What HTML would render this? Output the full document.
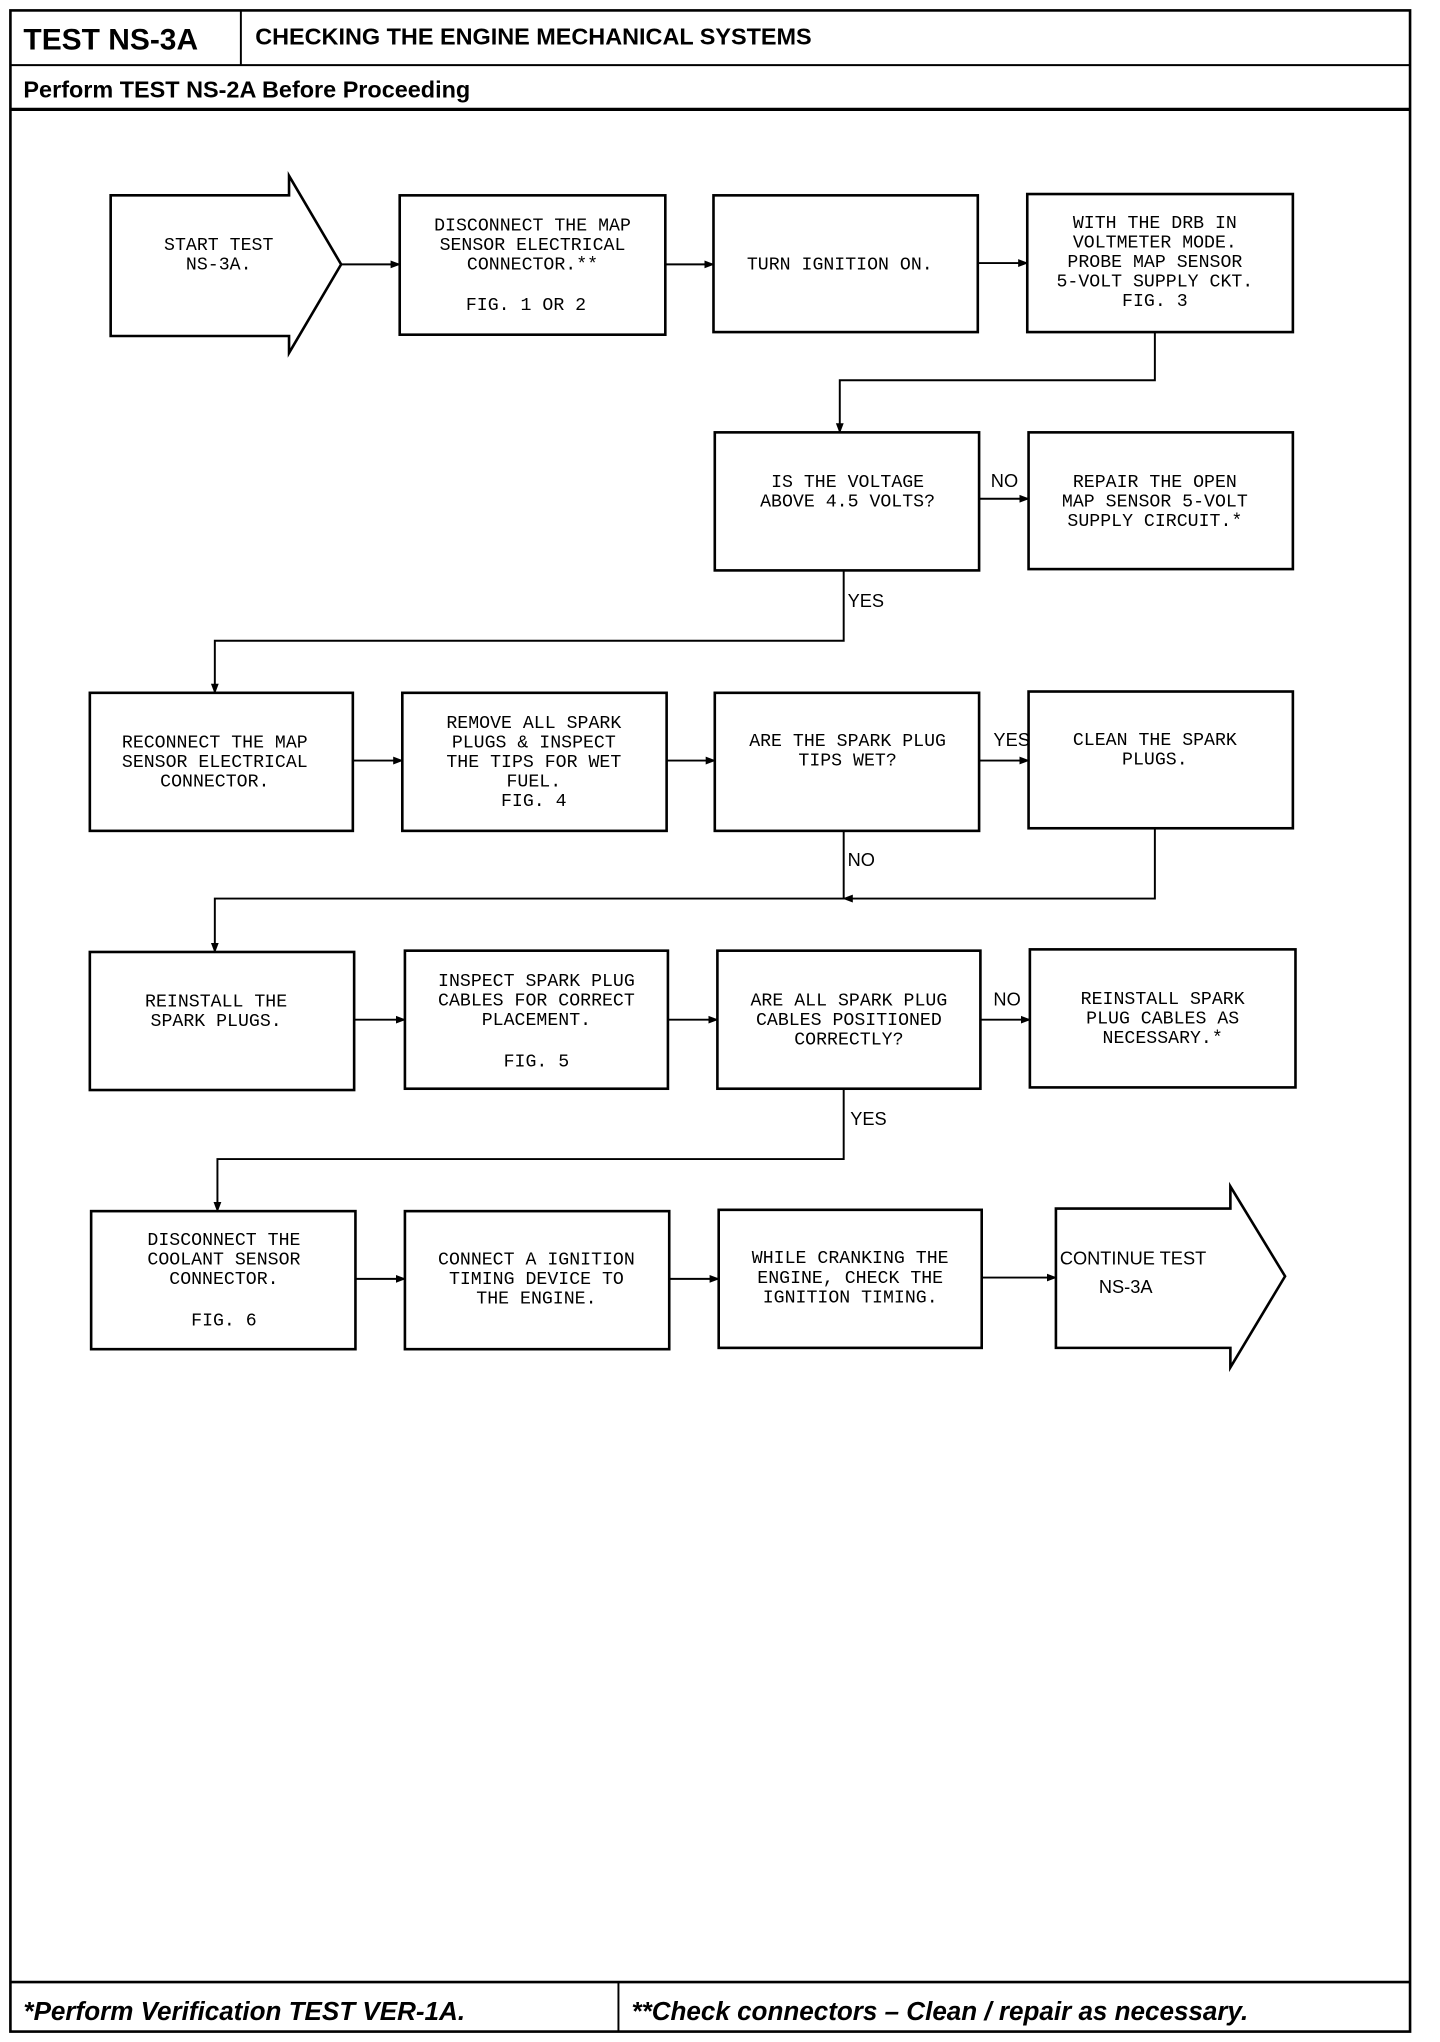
<!DOCTYPE html>
<html><head><meta charset="utf-8"><style>
html,body{margin:0;padding:0;background:#fff;}
svg{display:block}
.m{font-family:"Liberation Mono",monospace;font-size:14px;fill:#000;text-anchor:middle}
.h{font-family:"Liberation Sans",sans-serif;font-weight:bold;fill:#000}
.l{font-family:"Liberation Sans",sans-serif;font-size:14px;fill:#000}
</style></head><body>
<svg width="1440" height="2042" viewBox="0 0 1106 1568" preserveAspectRatio="none" xmlns="http://www.w3.org/2000/svg">
<defs><marker id="a" markerWidth="8" markerHeight="8" refX="7" refY="4" orient="auto" markerUnits="userSpaceOnUse"><path d="M0,1 L8,4 L0,7 Z" fill="#000"/></marker></defs>
<g fill="none" stroke="#000">
<rect x="8" y="8" width="1075" height="1552" stroke-width="2"/>
<line x1="8" y1="50" x2="1083" y2="50" stroke-width="1.5"/>
<line x1="185" y1="8" x2="185" y2="50" stroke-width="1.5"/>
<line x1="8" y1="84" x2="1083" y2="84" stroke-width="2.5"/>
<line x1="8" y1="1522" x2="1083" y2="1522" stroke-width="2"/>
<line x1="475" y1="1522" x2="475" y2="1560" stroke-width="1.5"/>
<g stroke-width="2">
<path d="M85,150 H222 V135 L262,203 L222,271 V258 H85 Z"/>
<rect x="307" y="150" width="204" height="107"/>
<rect x="548" y="150" width="203" height="105"/>
<rect x="789" y="149" width="204" height="106"/>
<rect x="549" y="332" width="203" height="106"/>
<rect x="790" y="332" width="203" height="105"/>
<rect x="69" y="532" width="202" height="106"/>
<rect x="309" y="532" width="203" height="106"/>
<rect x="549" y="532" width="203" height="106"/>
<rect x="790" y="531" width="203" height="105"/>
<rect x="69" y="731" width="203" height="106"/>
<rect x="311" y="730" width="202" height="106"/>
<rect x="551" y="730" width="202" height="106"/>
<rect x="791" y="729" width="204" height="106"/>
<rect x="70" y="930" width="203" height="106"/>
<rect x="311" y="930" width="203" height="106"/>
<rect x="552" y="929" width="202" height="106"/>
<path d="M811,928 H945 V911 L987,980 L945,1050 V1035 H811 Z"/>
</g>
<g stroke-width="1.5" marker-end="url(#a)">
<line x1="262" y1="203" x2="307" y2="203"/>
<line x1="511" y1="203" x2="548" y2="203"/>
<line x1="751" y1="202" x2="789" y2="202"/>
<path d="M887,255 V292 H645 V332"/>
<line x1="752" y1="383" x2="790" y2="383"/>
<path d="M648,438 V492 H165 V532"/>
<line x1="271" y1="584" x2="309" y2="584"/>
<line x1="512" y1="584" x2="549" y2="584"/>
<line x1="752" y1="584" x2="790" y2="584"/>
<path d="M648,638 V690 H165 V731"/>
<path d="M887,636 V690 H648"/>
<line x1="272" y1="783" x2="311" y2="783"/>
<line x1="513" y1="783" x2="551" y2="783"/>
<line x1="753" y1="783" x2="791" y2="783"/>
<path d="M648,836 V890 H167 V930"/>
<line x1="273" y1="982" x2="311" y2="982"/>
<line x1="514" y1="982" x2="552" y2="982"/>
<line x1="754" y1="981" x2="811" y2="981"/>
</g>
</g>
<text class="h" x="18" y="38" font-size="23">TEST NS-3A</text>
<text class="h" x="196" y="34" font-size="18">CHECKING THE ENGINE MECHANICAL SYSTEMS</text>
<text class="h" x="18" y="75" font-size="18">Perform TEST NS-2A Before Proceeding</text>
<text class="h" x="18" y="1551" font-size="20" font-style="italic">*Perform Verification TEST VER-1A.</text>
<text class="h" x="485" y="1551" font-size="20" font-style="italic">**Check connectors – Clean / repair as necessary.</text>
<g class="m">
<text x="168" y="192">START TEST</text><text x="168" y="207">NS-3A.</text>
<text x="409" y="177">DISCONNECT THE MAP</text><text x="409" y="192">SENSOR ELECTRICAL</text><text x="409" y="207">CONNECTOR.**</text><text x="404" y="238">FIG. 1 OR 2</text>
<text x="645" y="207">TURN IGNITION ON.</text>
<text x="887" y="175">WITH THE DRB IN</text><text x="887" y="190">VOLTMETER MODE.</text><text x="887" y="205">PROBE MAP SENSOR</text><text x="887" y="220">5-VOLT SUPPLY CKT.</text><text x="887" y="235">FIG. 3</text>
<text x="651" y="374">IS THE VOLTAGE</text><text x="651" y="389">ABOVE 4.5 VOLTS?</text>
<text x="887" y="374">REPAIR THE OPEN</text><text x="887" y="389">MAP SENSOR 5-VOLT</text><text x="887" y="404">SUPPLY CIRCUIT.*</text>
<text x="165" y="574">RECONNECT THE MAP</text><text x="165" y="589">SENSOR ELECTRICAL</text><text x="165" y="604">CONNECTOR.</text>
<text x="410" y="559">REMOVE ALL SPARK</text><text x="410" y="574">PLUGS &amp; INSPECT</text><text x="410" y="589">THE TIPS FOR WET</text><text x="410" y="604">FUEL.</text><text x="410" y="619">FIG. 4</text>
<text x="651" y="573">ARE THE SPARK PLUG</text><text x="651" y="588">TIPS WET?</text>
<text x="887" y="572">CLEAN THE SPARK</text><text x="887" y="587">PLUGS.</text>
<text x="166" y="773">REINSTALL THE</text><text x="166" y="788">SPARK PLUGS.</text>
<text x="412" y="757">INSPECT SPARK PLUG</text><text x="412" y="772">CABLES FOR CORRECT</text><text x="412" y="787">PLACEMENT.</text><text x="412" y="819">FIG. 5</text>
<text x="652" y="772">ARE ALL SPARK PLUG</text><text x="652" y="787">CABLES POSITIONED</text><text x="652" y="802">CORRECTLY?</text>
<text x="893" y="771">REINSTALL SPARK</text><text x="893" y="786">PLUG CABLES AS</text><text x="893" y="801">NECESSARY.*</text>
<text x="172" y="956">DISCONNECT THE</text><text x="172" y="971">COOLANT SENSOR</text><text x="172" y="986">CONNECTOR.</text><text x="172" y="1018">FIG. 6</text>
<text x="412" y="971">CONNECT A IGNITION</text><text x="412" y="986">TIMING DEVICE TO</text><text x="412" y="1001">THE ENGINE.</text>
<text x="653" y="970">WHILE CRANKING THE</text><text x="653" y="985">ENGINE, CHECK THE</text><text x="653" y="1000">IGNITION TIMING.</text>
</g>
<text class="l" x="814" y="971" font-size="17">CONTINUE TEST</text>
<text class="l" x="844" y="993" font-size="17">NS-3A</text>
<g class="l">
<text x="761" y="374">NO</text><text x="651" y="466">YES</text><text x="763" y="573">YES</text><text x="651" y="665">NO</text><text x="763" y="772">NO</text><text x="653" y="864">YES</text>
</g>
</svg>
</body></html>
